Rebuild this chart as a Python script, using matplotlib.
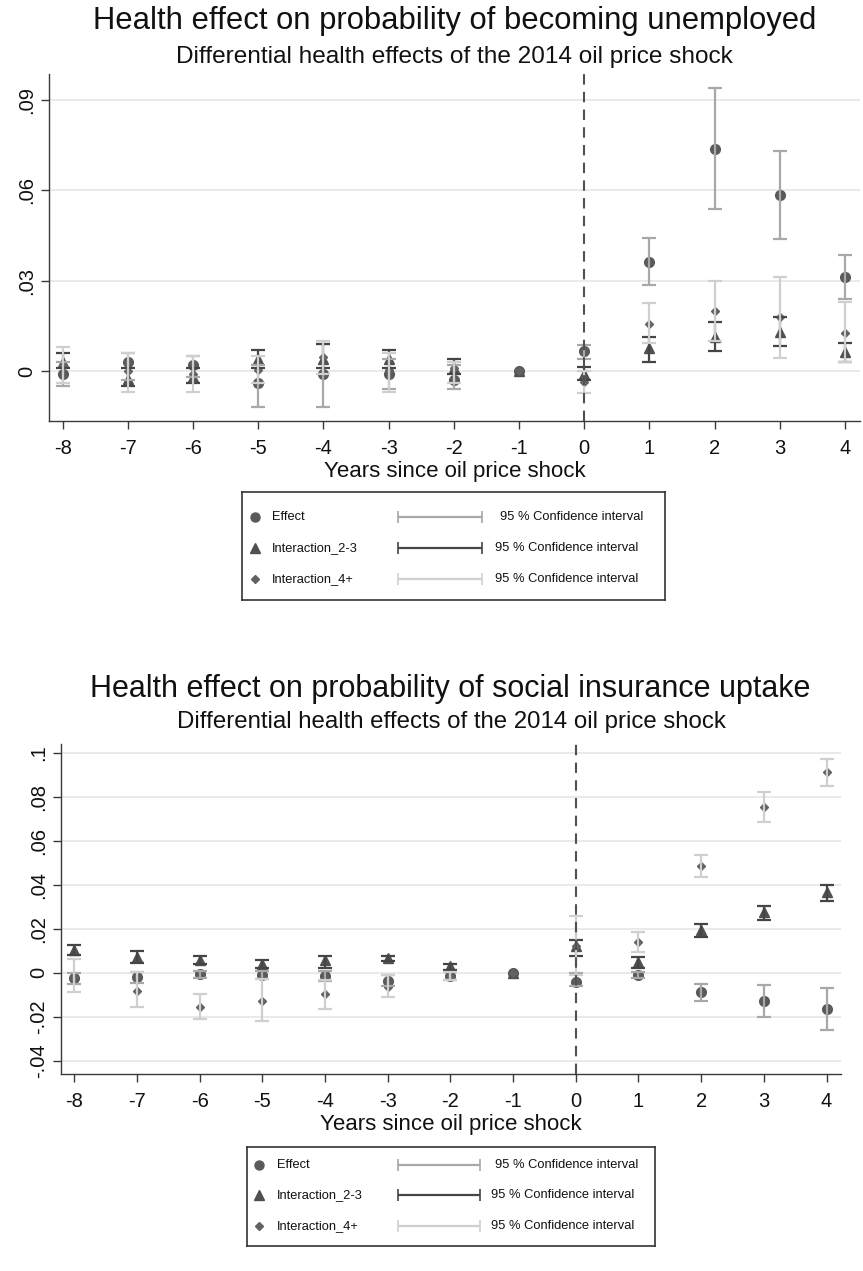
import numpy as np
import matplotlib
matplotlib.use("Agg")
import matplotlib.pyplot as plt
from matplotlib.ticker import FuncFormatter

plt.rcParams['font.family'] = ['Liberation Sans', 'DejaVu Sans']
plt.rcParams['axes.unicode_minus'] = False

years = [-8, -7, -6, -5, -4, -3, -2, -1, 0, 1, 2, 3, 4]

# probability of becoming unemployed
eff_u = [-0.001, 0.003, 0.002, -0.004, -0.001, -0.001, -0.003, 0.0, 0.0066, 0.0363, 0.0739, 0.0585, 0.0311]
eff_u_lo = [-0.005, -0.003, -0.002, -0.012, -0.012, -0.006, -0.006, 0.0, 0.004, 0.0286, 0.054, 0.044, 0.0241]
eff_u_hi = [0.003, 0.006, 0.005, 0.002, 0.009, 0.004, 0.002, 0.0, 0.0086, 0.0443, 0.0939, 0.0732, 0.0385]
i23_u = [0.003, -0.0025, -0.002, 0.004, 0.004, 0.004, 0.001, 0.0, -0.001, 0.0075, 0.0114, 0.0131, 0.0064]
i23_u_lo = [0.001, -0.005, -0.004, 0.001, 0.001, 0.001, -0.001, 0.0, -0.003, 0.0031, 0.0066, 0.0084, 0.0029]
i23_u_hi = [0.006, 0.001, 0.001, 0.007, 0.009, 0.007, 0.004, 0.0, 0.0014, 0.0114, 0.0164, 0.018, 0.0094]
i4_u = [0.002, 0.0, -0.001, 0.0003, 0.0046, 0.0005, 0.001, 0.0, -0.0035, 0.0156, 0.020, 0.0178, 0.0127]
i4_u_lo = [-0.004, -0.007, -0.007, -0.004, -0.001, -0.007, -0.004, 0.0, -0.0072, 0.0093, 0.010, 0.0044, 0.003]
i4_u_hi = [0.008, 0.006, 0.005, 0.005, 0.010, 0.006, 0.003, 0.0, 0.0, 0.0225, 0.0299, 0.0313, 0.023]

# probability of social insurance uptake
eff_s = [-0.0024, -0.002, -0.0006, -0.0009, -0.0014, -0.0035, -0.0014, 0.0, -0.004, -0.0009, -0.0088, -0.0126, -0.0166]
eff_s_lo = [-0.005, -0.0047, -0.0024, -0.0027, -0.0035, -0.006, -0.0032, 0.0, -0.0062, -0.0024, -0.0126, -0.020, -0.026]
eff_s_hi = [0.0, 0.0003, 0.001, 0.0006, 0.0008, -0.0009, 0.0004, 0.0, 0.0, 0.0003, -0.005, -0.0055, -0.007]
i23_s = [0.0102, 0.0072, 0.0056, 0.0041, 0.0056, 0.0067, 0.0029, 0.0, 0.012, 0.0049, 0.0196, 0.0276, 0.0367]
i23_s_lo = [0.0082, 0.0044, 0.0041, 0.0021, 0.0021, 0.0052, 0.0014, 0.0, 0.0075, 0.0021, 0.0163, 0.0239, 0.0326]
i23_s_hi = [0.0125, 0.0097, 0.0075, 0.0059, 0.0075, 0.0078, 0.004, 0.0, 0.0151, 0.0072, 0.0224, 0.0303, 0.0398]
i4_s = [-0.0017, -0.0081, -0.0154, -0.0126, -0.0097, -0.0065, -0.0014, 0.0, 0.0123, 0.014, 0.0486, 0.0752, 0.0912]
i4_s_lo = [-0.0088, -0.0157, -0.0212, -0.0218, -0.0163, -0.0108, -0.0032, 0.0, -0.001, 0.0094, 0.0436, 0.0684, 0.0851]
i4_s_hi = [0.0064, 0.0003, -0.0096, -0.0029, -0.0032, -0.0009, 0.0004, 0.0, 0.0257, 0.0186, 0.0535, 0.0821, 0.097]

labels = ["Effect", "Interaction_2-3", "Interaction_4+"]
markers = ["o", "^", "D"]
msizes = [7, 7, 4.5]
mcolors = ["#5a5a5a", "#505050", "#626262"]
cicolors = ["#a8a8a8", "#454545", "#cfcfcf"]


def stata_fmt(v, pos):
    if abs(v) < 1e-9:
        return "0"
    s = ("%g" % round(v, 4))
    return s.replace("0.", ".")


def panel(fig, rect, series, yticks, ylim):
    ax = fig.add_axes(rect)
    x = np.array(years)
    for k, (val, lo, hi) in enumerate(series):
        val = np.array(val)
        ax.plot(x, val, ls="none", marker=markers[k], ms=msizes[k],
                color=mcolors[k], mec=mcolors[k], zorder=3)
    for k, (val, lo, hi) in enumerate(series):
        val, lo, hi = np.array(val), np.array(lo), np.array(hi)
        m = hi > lo
        ax.errorbar(x[m], val[m], yerr=[val[m] - lo[m], hi[m] - val[m]],
                    fmt="none", ecolor=cicolors[k], elinewidth=1.6,
                    capsize=5, capthick=1.6, zorder=4)
    ax.axvline(0, color="#505050", lw=1.5, ls=(0, (5, 3.5)), zorder=5)
    ax.set_xlim(-8.21, 4.23)
    ax.set_ylim(*ylim)
    ax.set_xticks(years)
    ax.set_yticks(yticks)
    ax.yaxis.set_major_formatter(FuncFormatter(stata_fmt))
    ax.grid(axis="y", color="#e6e6e6", lw=1.2, zorder=0)
    ax.set_axisbelow(True)
    for s in ["top", "right"]:
        ax.spines[s].set_visible(False)
    for s in ["left", "bottom"]:
        ax.spines[s].set_color("#3a3a3a")
        ax.spines[s].set_linewidth(1.0)
    ax.tick_params(axis="both", labelsize=14.5, colors="#3a3a3a",
                   labelcolor="#111111", length=6, width=1.0, direction="out")
    ax.tick_params(axis="x", pad=7)
    for t in ax.get_yticklabels():
        t.set_rotation(90)
        t.set_va("center")
    ax.set_xlabel("Years since oil price shock", fontsize=16, color="#111111", labelpad=2)
    return ax


def legend_box(fig, rect, rows_y, mx, lx, cx0, cx1, tx):
    lg = fig.add_axes(rect)
    lg.set_xlim(0, 1)
    lg.set_ylim(0, 1)
    lg.set_xticks([])
    lg.set_yticks([])
    for s in lg.spines.values():
        s.set_color("#333333")
        s.set_linewidth(1.2)
    for k in range(3):
        y = rows_y[k]
        lg.plot([mx], [y], marker=markers[k], ms=msizes[k] - 0.5, color=mcolors[k], ls="none")
        lg.text(lx, y, labels[k], fontsize=9.3, va="center", color="#111111")
        lg.errorbar([(cx0 + cx1) / 2], [y], xerr=[[(cx1 - cx0) / 2]], fmt="none",
                    ecolor=cicolors[k], elinewidth=1.6, capsize=4, capthick=1.2)
        lg.text(tx[k], y, "95 % Confidence interval", fontsize=9.3, va="center", color="#111111")


W, H = 863, 1271
fig = plt.figure(figsize=(W / 100, H / 100), dpi=100)

# top panel
fig.text(455 / W, 1 - 21 / H, "Health effect on probability of becoming unemployed",
         ha="center", va="center", fontsize=22.3, color="#111111")
fig.text(454 / W, 1 - 57 / H, "Differential health effects of the 2014 oil price shock",
         ha="center", va="center", fontsize=17.6, color="#111111")
panel(fig, [49 / W, 1 - 421 / H, 811 / W, 347 / H],
      [(eff_u, eff_u_lo, eff_u_hi), (i23_u, i23_u_lo, i23_u_hi), (i4_u, i4_u_lo, i4_u_hi)],
      [0, 0.03, 0.06, 0.09], (-0.0166, 0.0987))
legend_box(fig, [242 / W, 1 - 600 / H, 423 / W, 108 / H], [0.769, 0.481, 0.194],
           0.031, 0.071, 0.369, 0.567, [0.61, 0.598, 0.598])

# bottom panel
fig.text(450 / W, 1 - 689 / H, "Health effect on probability of social insurance uptake",
         ha="center", va="center", fontsize=22, color="#111111")
fig.text(451 / W, 1 - 722 / H, "Differential health effects of the 2014 oil price shock",
         ha="center", va="center", fontsize=17.3, color="#111111")
panel(fig, [61 / W, 1 - 1074 / H, 780 / W, 330 / H],
      [(eff_s, eff_s_lo, eff_s_hi), (i23_s, i23_s_lo, i23_s_hi), (i4_s, i4_s_lo, i4_s_hi)],
      [-0.04, -0.02, 0, 0.02, 0.04, 0.06, 0.08, 0.1], (-0.046, 0.104))
legend_box(fig, [247 / W, 1 - 1246 / H, 408 / W, 99 / H], [0.818, 0.515, 0.202],
           0.029, 0.074, 0.37, 0.571, [0.608, 0.598, 0.598])

fig.savefig("out.png", dpi=100)
